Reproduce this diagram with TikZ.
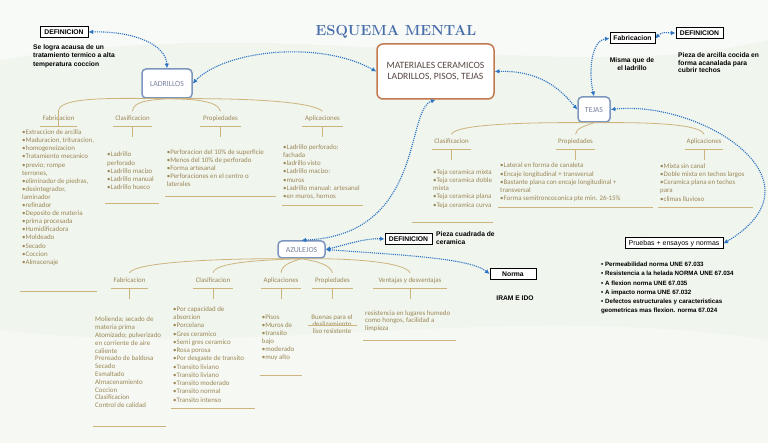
\documentclass[tikz,border=0pt]{standalone}
\usepackage{fontspec}
\newfontfamily\carl{Carlito}
\newfontfamily\lsans{Liberation Sans}
\usepackage{tikz}
\usetikzlibrary{arrows.meta}
\definecolor{paper}{RGB}{240,245,238}
\definecolor{linkblue}{RGB}{45,115,195}
\definecolor{rulecol}{RGB}{205,180,125}
\definecolor{itemcol}{RGB}{155,135,85}
\definecolor{topicblue}{RGB}{125,150,190}
\definecolor{topictext}{RGB}{120,130,160}
\definecolor{corebrown}{RGB}{195,120,80}
\definecolor{coretext}{RGB}{85,70,65}
\definecolor{titleblue}{RGB}{72,110,170}
\tikzstyle{core}=[draw=corebrown, line width=1.5pt, rounded corners=6pt, fill=white, text=coretext, align=center, font=\carl\fontsize{9.6}{11}\selectfont]
\tikzstyle{topic}=[draw=topicblue, line width=1.5pt, rounded corners=4pt, fill=white, text=topictext, font=\carl\fontsize{7.8}{9}\selectfont]
\tikzstyle{defbox}=[draw=black, line width=1pt, fill=white, inner sep=1pt, minimum height=11pt, font=\lsans\bfseries\fontsize{6.8}{8}\selectfont]
\tikzstyle{note}=[inner sep=0pt, align=left, font=\lsans\bfseries\fontsize{6.7}{8.3}\selectfont]
\tikzstyle{head}=[inner xsep=0pt, inner ysep=4.25pt, text height=5pt, text depth=1.5pt, text=itemcol, font=\carl\fontsize{6.9}{8}\selectfont]
\tikzstyle{items}=[inner sep=0pt, anchor=north west, align=left, text=itemcol, font=\carl\fontsize{6.9}{8.1}\selectfont]
\tikzstyle{rule}=[draw=rulecol, line width=1pt]
\tikzstyle{branch}=[draw=rulecol, line width=0.8pt]
\tikzstyle{link}=[draw=linkblue, line width=1.1pt, densely dotted, >={Latex[length=1.6mm,width=1.6mm]}, <->]

\begin{document}
\begin{tikzpicture}[x=1pt,y=-1pt]
	\fill[paper] (0,0) rectangle (768,443);
	\fill[white, opacity=0.55] (0,0) -- (768,0) -- (768,40) .. controls (560,90) and (300,10) .. (0,60) -- cycle;
	\fill[white, opacity=0.35] (0,443) -- (0,330) .. controls (250,360) and (500,300) .. (768,340) -- (768,443) -- cycle;
	\useasboundingbox (0,0) rectangle (768,443);
	\begin{scope}
		\node (title) at (396,32)[text=titleblue, font=\bfseries\fontsize{14.6}{16}\selectfont] {ESQUEMA MENTAL};
		\node (core) at (435.5,71.5)[core, minimum width=117pt, minimum height=55pt] {MATERIALES CERAMICOS\\LADRILLOS, PISOS, TEJAS};

		\node (lad) at (167,83.5)[topic, minimum width=50pt, minimum height=29pt] {LADRILLOS};
		\node (tej) at (594,109.5)[topic, minimum width=32pt, minimum height=25pt] {TEJAS};
		\node (azu) at (301.5,249.5)[topic, minimum width=47pt, minimum height=17pt] {AZULEJOS};

		\node (defl) at (64,32)[defbox, minimum width=48pt] {DEFINICION};
		\node (deft) at (699.5,33)[defbox, minimum width=47pt] {DEFINICION};
		\node (defa) at (408.5,239)[defbox, minimum width=47pt] {DEFINICION};
		\node (fabt) at (632.5,38.5)[defbox, minimum width=45pt] {Fabricacion};
		\node (nrm) at (513,274)[defbox, minimum width=46pt] {Norma};
		\node (prb) at (674,243.5)[defbox, minimum width=98pt, font=\lsans\fontsize{7}{8}\selectfont] {Pruebas + ensayos y normas};

		\node (defltxt) at (33,44.5)[note, anchor=north west] {Se logra acausa de un\\tratamiento termico a alta\\temperatura coccion};
		\node (fabttxt) at (632,57)[note, anchor=north, align=center] {Misma que de\\el ladrillo};
		\node (defttxt) at (678,52.5)[note, anchor=north west, font=\lsans\bfseries\fontsize{6.7}{7.5}\selectfont] {Pieza de arcilla cocida en\\forma acanalada para\\cubrir techos};
		\node (defatxt) at (436,231.5)[note, anchor=north west, font=\lsans\bfseries\fontsize{6.7}{7.7}\selectfont] {Pieza cuadrada de\\ceramica};
		\node (nrmtxt) at (515,297.7)[note] {IRAM E IDO};
		\node (prbtxt) at (601,262)[note, anchor=north west, font=\lsans\bfseries\fontsize{6.2}{9.2}\selectfont] {\textbullet\ Permeabilidad norma UNE 67.033\\\textbullet\ Resistencia a la helada NORMA UNE 67.034\\\textbullet\ A flexion norma UNE 67.035\\\textbullet\ A impacto norma UNE 67.032\\\textbullet\ Defectos estructurales y caracteristicas\\geometricas mas flexion. norma 67.024};
	\end{scope}
	\begin{scope}
		% ladrillos
		\node (fabl) at (58.5,119)[head, minimum width=37pt] {Fabricacion};
		\node (clal) at (132.5,119)[head, minimum width=39pt] {Clasificacion};
		\node (prol) at (220.5,119)[head, minimum width=41pt] {Propiedades};
		\node (apll) at (322.5,119)[head, minimum width=41pt] {Aplicaciones};
		\node (fablist) at (22,129.7)[items] {\textbullet Extraccion de arcilla\\\textbullet Maduracion, trituracion,\\\textbullet homogeneizacion\\\textbullet Tratamiento mecanico\\\textbullet previo; rompe\\terrones,\\\textbullet eliminador de piedras,\\\textbullet desintegrador,\\laminador\\\textbullet refinador\\\textbullet Deposito de materia\\\textbullet prima procesada\\\textbullet Humidificadora\\\textbullet Moldeado\\\textbullet Secado\\\textbullet Coccion\\\textbullet Almacenaje};
		\node (clalist) at (107,152)[items] {\textbullet Ladrillo\\perforado\\\textbullet Ladrillo macizo\\\textbullet Ladrillo manual\\\textbullet Ladrillo hueco};
		\node (prolist) at (166.7,149.3)[items] {\textbullet Perforacion del 10\% de superficie\\\textbullet Menos del 10\% de perforado\\\textbullet Forma artesanal\\\textbullet Perforaciones en el centro o\\laterales};
		\node (apllist) at (283,144.7)[items] {\textbullet Ladrillo perforado:\\fachada\\\textbullet ladrillo visto\\\textbullet Ladrillo macizo:\\\textbullet muros\\\textbullet Ladrillo manual: artesanal\\\textbullet en muros, hornos};

		% tejas
		\node (clat) at (451.5,142)[head, minimum width=39pt] {Clasificacion};
		\node (prot) at (575.5,142)[head, minimum width=39pt] {Propiedades};
		\node (aplt) at (704,142)[head, minimum width=38pt] {Aplicaciones};
		\node (clatlist) at (433,169.7)[items] {\textbullet Teja ceramica mixta\\\textbullet Teja ceramica doble\\mixta\\\textbullet Teja ceramica plana\\\textbullet Teja ceramica curva};
		\node (protlist) at (500,163)[items] {\textbullet Lateral en forma de canaleta\\\textbullet Encaje longitudinal + transversal\\\textbullet Bastante plana con encaje longitudinal +\\transversal\\\textbullet Forma semitroncoconica pte min. 26-15\%};
		\node (apltlist) at (660,163.7)[items] {\textbullet Mixta sin canal\\\textbullet Doble mixta en techos largos\\\textbullet Ceramica plana en techos\\para\\\textbullet climas lluvioso};

		% azulejos
		\node (faba) at (129.5,280.5)[head, minimum width=37pt] {Fabricacion};
		\node (claa) at (213,280.5)[head, minimum width=40pt] {Clasificacion};
		\node (apla) at (281,280.5)[head, minimum width=40pt] {Aplicaciones};
		\node (proa) at (332.5,280.5)[head, minimum width=41pt] {Propiedades};
		\node (vena) at (410,280.5)[head, minimum width=74pt] {Ventajas y desventajas};
		\node (fabalist) at (95,317)[items, font=\carl\fontsize{6.9}{7.8}\selectfont] {Molienda; secado de\\materia prima\\Atomizado; pulverizado\\en corriente de aire\\caliente\\Prensado de baldosa\\Secado\\Esmaltado\\Almacenamiento\\Coccion\\Clasificacion\\Control de calidad};
		\node (claalist) at (173,306.3)[items, font=\carl\fontsize{6.9}{8.25}\selectfont] {\textbullet Por capacidad de\\absorcion\\\textbullet Porcelana\\\textbullet Gres ceramico\\\textbullet Semi gres ceramico\\\textbullet Rosa porosa\\\textbullet Por desgaste de transito\\\textbullet Transito liviano\\\textbullet Transito liviano\\\textbullet Transito moderado\\\textbullet Transito normal\\\textbullet Transito intenso};
		\node (aplalist) at (261.7,314.3)[items] {\textbullet Pisos\\\textbullet Muros de\\\textbullet transito\\bajo\\\textbullet moderado\\\textbullet muy alto};
		\node (proalist) at (332,314.3)[items, anchor=north, align=center, font=\carl\fontsize{6.9}{7.2}\selectfont] {Buenas para el\\deslizamiento\\liso resistente};
		\node (venalist) at (365,310.3)[items, font=\carl\fontsize{6.9}{7.5}\selectfont] {resistencia en lugares humedo\\como hongos, facilidad a\\limpieza};
	\end{scope}
	\begin{scope}
		% underlines, ticks and closing lines
		\draw [rule] (fabl.south west) -- (fabl.south east);
		\draw [rule] (clal.south west) -- (clal.south east);
		\draw [rule] (prol.south west) -- (prol.south east);
		\draw [rule] (apll.south west) -- (apll.south east);
		\draw [rule] (clat.south west) -- (clat.south east);
		\draw [rule] (prot.south west) -- (prot.south east);
		\draw [rule] (aplt.south west) -- (aplt.south east);
		\draw [rule] (faba.south west) -- (faba.south east);
		\draw [rule] (claa.south west) -- (claa.south east);
		\draw [rule] (apla.south west) -- (apla.south east);
		\draw [rule] (proa.south west) -- (proa.south east);
		\draw [rule] (vena.south west) -- (vena.south east);

		\draw [rule] (clal.south) -- ++(0,10.5);
		\draw [rule] (prol.south) -- ++(0,10.5);
		\draw [rule] (apll.south) -- ++(0,10.5);
		\draw [rule] (clat.south) -- ++(0,10.5);
		\draw [rule] (prot.south) -- ++(0,10.5);
		\draw [rule] (aplt.south) -- ++(0,10.5);
		\draw [rule] (faba.south) -- ++(0,10.5);
		\draw [rule] (claa.south) -- ++(0,10.5);
		\draw [rule] (apla.south) -- ++(0,10.5);
		\draw [rule] (proa.south) -- ++(0,10.5);
		\draw [rule] (vena.south) -- ++(0,10.5);

		\draw [rule] (20,291.7) -- (97,291.7);
		\draw [rule] (105,204) -- (159,204);
		\draw [rule] (165,197) -- (276,197);
		\draw [rule] (282,205.7) -- (363,205.7);
		\draw [rule] (412,223) -- (493,223);
		\draw [rule] (498,207.3) -- (653,207.3);
		\draw [rule] (658,207.3) -- (753,207.3);
		\draw [rule] (93,426.7) -- (166,426.7);
		\draw [rule] (171,408.3) -- (255,408.3);
		\draw [rule] (260,375) -- (302,375);
		\draw [rule] (308,325.7) -- (357,325.7);
		\draw [rule] (363,340.7) -- (456,340.7);

		% branches
		\draw [branch] (lad.south) .. controls (110,98) and (58.5,97) .. (fabl.north) -- (fabl.south);
		\draw [branch] (lad.south) .. controls (150,100) and (133,101) .. (clal.north);
		\draw [branch] (lad.south) .. controls (190,99) and (218,100) .. (prol.north);
		\draw [branch] (lad.south) .. controls (230,98) and (310,100) .. (apll.north);
		\draw [branch] (tej.south) .. controls (530,122) and (455,124) .. (clat.north);
		\draw [branch] (tej.south) .. controls (585,126) and (576,128) .. (prot.north);
		\draw [branch] (tej.south) .. controls (650,122) and (700,124) .. (aplt.north);
		\draw [branch] (azu.south) .. controls (220,258) and (135,262) .. (faba.north);
		\draw [branch] (azu.south) .. controls (255,260) and (215,263) .. (claa.north);
		\draw [branch] (azu.south) .. controls (290,262) and (282,265) .. (apla.north);
		\draw [branch] (azu.south) .. controls (315,261) and (330,264) .. (proa.north);
		\draw [branch] (azu.south) .. controls (350,258) and (405,262) .. (vena.north);

		% links
		\draw [link] (defl.east) .. controls (135,31) and (166,45) .. (lad.north);
		\draw [link] (lad.east) .. controls (225,50) and (320,40) .. (core.west);
		\draw [link] (core.east) .. controls (545,70) and (565,95) .. (tej.west);
		\draw [link] (tej.north) .. controls (588,70) and (592,40) .. (fabt.west);
		\draw [link] (fabt.east) .. controls (662,31) and (668,33) .. (deft.west);
		\draw [link] (tej.east) .. controls (700,100) and (830,180) .. (prb.east);
		\draw [link] (core.south) .. controls (405,110) and (425,235) .. (azu.north);
		\draw [link] (azu.east) .. controls (345,245) and (365,238) .. (defa.west);
		\draw [link] (azu.east) .. controls (400,255) and (470,258) .. (nrm.west);
	\end{scope}
\end{tikzpicture}
\end{document}
